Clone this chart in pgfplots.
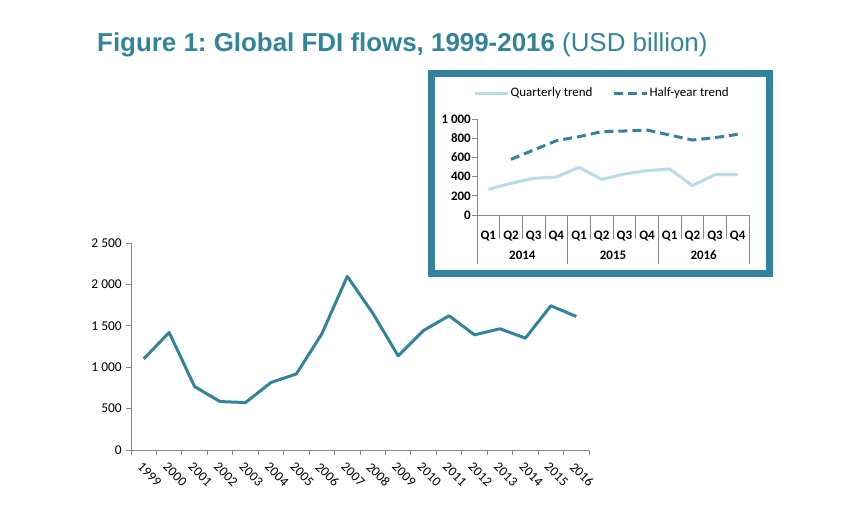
\documentclass[border=0pt]{standalone}
\usepackage{pgfplots}
\pgfplotsset{compat=1.18}
\usepackage{fontspec}
\setmainfont{Carlito}
\newfontfamily\arialfont{Liberation Sans}
\definecolor{teal1}{HTML}{31849B}
\definecolor{lightq}{HTML}{B7DEE8}
\definecolor{axgray}{HTML}{868686}
\frenchspacing
\begin{document}
\begin{tikzpicture}
\useasboundingbox (0bp,0bp) rectangle (862bp,-508bp);
\node[anchor=west, text=teal1, font=\arialfont\fontsize{26}{30}\selectfont, inner sep=0pt] at (97bp,-45bp) {\textbf{Figure 1: Global FDI flows, 1999-2016} (USD billion)};

\begin{axis}[
  at={(131bp,-450bp)}, anchor=south west, scale only axis,
  width=458bp, height=207bp,
  xmin=-0.5, xmax=17.5, ymin=0, ymax=2500,
  axis x line*=bottom, axis y line*=left,
  axis line style={axgray, line width=0.8bp, -},
  tick align=outside, major tick length=5bp,
  tick style={axgray, line width=0.8bp},
  xtick={-0.5,0.5,...,17.5}, x tick label as interval,
  xticklabels={1999,2000,2001,2002,2003,2004,2005,2006,2007,2008,2009,2010,2011,2012,2013,2014,2015,2016},
  x tick label style={rotate=-45, anchor=north west, font=\fontsize{13.5}{15}\selectfont, inner sep=1bp, xshift=3bp, yshift=-4bp},
  ytick={0,500,...,2500},
  yticklabels={0,500,1~000,1~500,2~000,2~500},
  y tick label style={font=\fontsize{13.5}{15}\selectfont, anchor=east, inner sep=1bp, xshift=-3bp},
  clip=false,
]
\addplot[teal1, line width=3bp, line join=round] coordinates {
(0,1100) (1,1420) (2,766) (3,585) (4,573) (5,815) (6,919) (7,1403) (8,2097)
(9,1653) (10,1137) (11,1444) (12,1621) (13,1391) (14,1464) (15,1351) (16,1742) (17,1613)};
\end{axis}

\fill[white] (428bp,-70bp) rectangle (773bp,-277bp);
\draw[teal1, line width=7bp] (431.5bp,-73.5bp) rectangle (769.5bp,-273.5bp);

\begin{axis}[
  at={(477bp,-215bp)}, anchor=south west, scale only axis,
  width=272bp, height=96bp,
  xmin=-0.5, xmax=11.5, ymin=0, ymax=1000,
  axis x line*=bottom, axis y line*=left,
  axis line style={axgray, line width=0.8bp, -},
  tick align=outside, major tick length=5bp,
  tick style={axgray, line width=0.8bp},
  xtick={-0.5,0.5,...,11.5}, x tick label as interval,
  xticklabels={Q1,Q2,Q3,Q4,Q1,Q2,Q3,Q4,Q1,Q2,Q3,Q4},
  x tick label style={font=\bfseries\fontsize{13}{15}\selectfont, yshift=-7bp},
  ytick={0,200,...,1000},
  yticklabels={0,200,400,600,800,1~000},
  y tick label style={font=\bfseries\fontsize{13}{15}\selectfont, anchor=east, inner sep=1bp},
  clip=false,
  legend columns=2,
  legend style={at={(-0.015,1.27)}, anchor=west, draw=none, fill=none, inner sep=0pt,
    font=\fontsize{13}{15}\selectfont, nodes={inner sep=1.5bp},
    /tikz/every even column/.append style={column sep=18bp}},
  legend image code/.code={\draw[#1] (0bp,0bp) -- (33bp,0bp);},
]
\addplot[lightq, line width=3bp, line join=round] coordinates {
(0,267) (1,330) (2,382) (3,396) (4,497) (5,371) (6,427) (7,462) (8,479) (9,306) (10,420) (11,420)};
\addlegendentry{Quarterly trend}
\addplot[teal1, line width=3bp, dash pattern=on 9bp off 5bp] coordinates {
(1,580) (2,677) (3,774) (4,816) (5,868) (6,875) (7,885) (8,833) (9,781) (10,806) (11,840)};
\addlegendentry{Half-year trend}
\draw[axgray, line width=0.8bp] (axis cs:0.5,0) -- ++(0bp,-24bp);
\draw[axgray, line width=0.8bp] (axis cs:1.5,0) -- ++(0bp,-24bp);
\draw[axgray, line width=0.8bp] (axis cs:2.5,0) -- ++(0bp,-24bp);
\draw[axgray, line width=0.8bp] (axis cs:4.5,0) -- ++(0bp,-24bp);
\draw[axgray, line width=0.8bp] (axis cs:5.5,0) -- ++(0bp,-24bp);
\draw[axgray, line width=0.8bp] (axis cs:6.5,0) -- ++(0bp,-24bp);
\draw[axgray, line width=0.8bp] (axis cs:8.5,0) -- ++(0bp,-24bp);
\draw[axgray, line width=0.8bp] (axis cs:9.5,0) -- ++(0bp,-24bp);
\draw[axgray, line width=0.8bp] (axis cs:10.5,0) -- ++(0bp,-24bp);
\draw[axgray, line width=0.8bp] (axis cs:-0.5,0) -- ++(0bp,-49bp);
\draw[axgray, line width=0.8bp] (axis cs:3.5,0) -- ++(0bp,-49bp);
\draw[axgray, line width=0.8bp] (axis cs:7.5,0) -- ++(0bp,-49bp);
\draw[axgray, line width=0.8bp] (axis cs:11.5,0) -- ++(0bp,-49bp);
\node[font=\bfseries\fontsize{13}{15}\selectfont] at (axis cs:1.5,0) [yshift=-40bp] {2014};
\node[font=\bfseries\fontsize{13}{15}\selectfont] at (axis cs:5.5,0) [yshift=-40bp] {2015};
\node[font=\bfseries\fontsize{13}{15}\selectfont] at (axis cs:9.5,0) [yshift=-40bp] {2016};
\end{axis}
\end{tikzpicture}
\end{document}
